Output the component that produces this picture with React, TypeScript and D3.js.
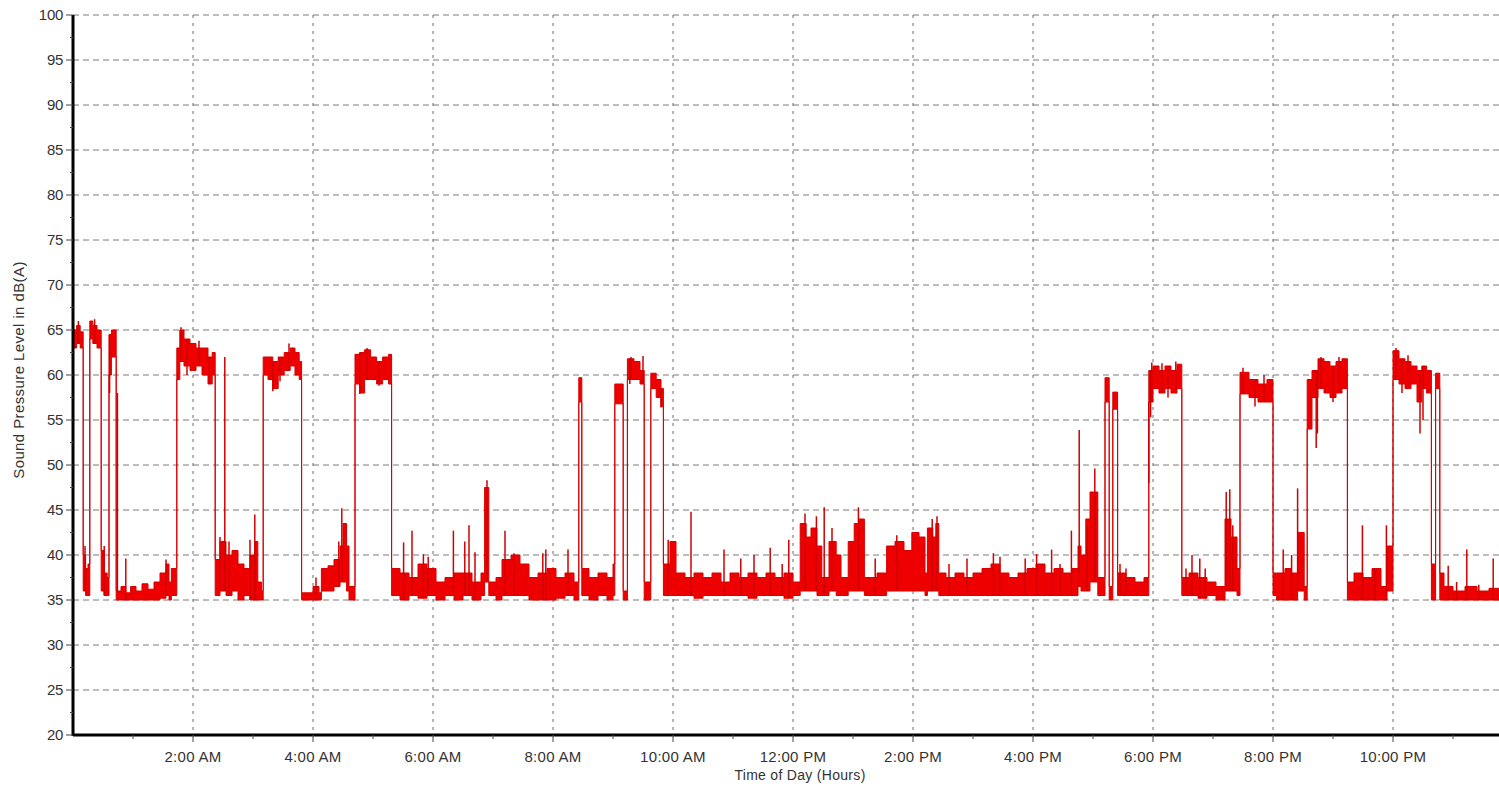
import React from 'react';
import * as d3 from 'd3';

// [hour, low dB(A), high dB(A)] — step envelope of the measured band
const bandSteps: [number, number, number][] = [
  [0.0, 63.0, 65.0], [0.06, 63.5, 65.5], [0.12, 63.0, 64.8],
  [0.17, 36.0, 40.0], [0.21, 35.5, 38.5], [0.25, 35.5, 39.0],
  [0.28, 64.0, 66.0], [0.33, 63.5, 65.5], [0.4, 63.0, 65.0],
  [0.47, 36.0, 40.5], [0.52, 35.5, 38.0], [0.57, 35.5, 37.5],
  [0.6, 60.0, 64.5], [0.64, 62.0, 65.0],
  [0.72, 35.0, 36.0], [0.8, 35.0, 36.5], [0.88, 35.0, 35.8], [0.96, 35.0, 36.5],
  [1.05, 35.0, 36.0], [1.15, 35.0, 36.8], [1.25, 35.0, 36.2], [1.35, 35.0, 37.0],
  [1.45, 35.2, 38.0], [1.55, 35.5, 39.0], [1.6, 35.0, 37.0], [1.64, 35.5, 38.5],
  [1.73, 59.5, 63.0], [1.78, 61.5, 65.0], [1.85, 61.0, 64.0], [1.95, 60.5, 63.5],
  [2.05, 61.0, 63.0], [2.15, 60.0, 63.0], [2.25, 59.0, 62.0], [2.32, 60.0, 62.5],
  [2.37, 35.5, 39.5], [2.45, 36.0, 41.5], [2.55, 35.5, 40.0], [2.65, 36.0, 40.5],
  [2.75, 35.0, 39.0], [2.85, 35.5, 38.5], [2.95, 35.0, 40.0], [3.03, 35.0, 41.5],
  [3.08, 35.0, 37.0], [3.14, 35.0, 36.0],
  [3.17, 60.0, 62.0], [3.25, 59.5, 62.0], [3.33, 58.5, 61.5], [3.42, 60.0, 62.0],
  [3.52, 60.5, 62.5], [3.62, 61.0, 63.0], [3.7, 60.0, 62.5], [3.77, 59.5, 61.5],
  [3.81, 35.0, 35.8], [4.0, 35.0, 36.5], [4.1, 35.0, 35.8],
  [4.14, 36.0, 38.5], [4.25, 36.0, 38.8], [4.35, 36.5, 39.5], [4.45, 37.0, 41.0],
  [4.5, 37.0, 43.5], [4.56, 36.0, 41.0], [4.6, 35.0, 36.5],
  [4.7, 59.0, 62.3], [4.78, 58.0, 62.5], [4.86, 59.5, 62.8], [4.96, 59.5, 62.0],
  [5.06, 59.0, 61.5], [5.16, 59.5, 62.0], [5.26, 59.0, 62.3],
  [5.31, 35.5, 38.5], [5.45, 35.0, 38.0], [5.6, 35.5, 37.5], [5.75, 35.2, 39.0],
  [5.9, 35.5, 38.5], [6.05, 35.0, 37.0], [6.2, 35.5, 37.5], [6.35, 35.0, 38.0],
  [6.5, 35.5, 38.0], [6.65, 35.0, 37.0], [6.8, 35.5, 38.0], [6.86, 37.0, 47.5],
  [6.93, 35.5, 37.0], [7.05, 35.0, 37.5], [7.15, 35.5, 39.5], [7.3, 35.5, 40.0],
  [7.45, 35.5, 39.0], [7.6, 35.0, 37.5], [7.75, 35.0, 38.0], [7.9, 35.0, 38.5],
  [8.05, 35.2, 37.5], [8.2, 35.5, 38.0], [8.35, 35.0, 37.0],
  [8.43, 57.0, 59.7], [8.48, 35.5, 38.5], [8.6, 35.0, 37.5], [8.75, 35.5, 38.0],
  [8.9, 35.0, 37.5], [9.0, 35.5, 39.0],
  [9.03, 56.8, 59.0], [9.17, 35.0, 36.0],
  [9.24, 59.5, 61.8], [9.35, 59.5, 61.5], [9.45, 59.0, 60.5],
  [9.52, 35.0, 37.0], [9.63, 58.5, 60.2], [9.72, 57.5, 59.5], [9.8, 56.5, 58.5],
  [9.84, 35.5, 39.0], [9.95, 35.5, 41.5], [10.05, 35.5, 38.0], [10.2, 35.5, 37.5],
  [10.35, 35.2, 38.0], [10.5, 35.5, 37.5], [10.65, 35.5, 38.0], [10.8, 35.5, 37.0],
  [10.95, 35.5, 38.0], [11.1, 35.5, 37.5], [11.25, 35.2, 38.0], [11.4, 35.5, 37.5],
  [11.55, 35.5, 38.0], [11.7, 35.5, 37.5], [11.85, 35.2, 38.0], [12.0, 35.5, 37.0],
  [12.12, 36.0, 43.5], [12.22, 36.0, 42.0], [12.3, 36.0, 43.0], [12.4, 35.5, 41.0],
  [12.48, 35.5, 37.5], [12.6, 36.0, 41.5], [12.72, 35.5, 40.0], [12.8, 35.5, 37.5],
  [12.92, 36.0, 41.5], [13.02, 36.0, 43.5], [13.1, 36.0, 44.0], [13.19, 35.5, 37.5],
  [13.4, 35.5, 38.0], [13.56, 36.0, 41.0], [13.7, 36.0, 41.5], [13.85, 36.0, 40.5],
  [13.98, 36.0, 42.5], [14.1, 36.0, 42.0], [14.2, 35.5, 38.0], [14.24, 36.0, 43.0],
  [14.33, 36.0, 42.0], [14.38, 36.0, 43.5], [14.43, 35.5, 38.0], [14.55, 35.5, 37.5],
  [14.7, 35.5, 38.0], [14.85, 35.5, 37.5], [15.0, 35.5, 38.0], [15.15, 35.5, 38.5],
  [15.3, 35.5, 39.0], [15.45, 35.5, 38.0], [15.6, 35.5, 37.5], [15.75, 35.5, 38.0],
  [15.9, 35.5, 38.5], [16.05, 35.5, 39.0], [16.2, 35.5, 38.0], [16.35, 35.5, 38.5],
  [16.5, 35.5, 38.0], [16.65, 35.5, 38.5], [16.75, 36.5, 41.0], [16.8, 36.0, 40.0],
  [16.88, 36.0, 44.0], [16.95, 37.0, 47.0], [17.08, 35.5, 37.5],
  [17.2, 57.0, 59.7], [17.27, 35.0, 36.5], [17.33, 56.2, 58.1],
  [17.41, 35.5, 38.0], [17.55, 35.5, 37.5], [17.7, 35.5, 37.0], [17.85, 35.5, 37.5],
  [17.93, 57.0, 60.5], [18.0, 58.5, 61.0], [18.1, 58.0, 60.5], [18.2, 58.5, 61.0],
  [18.3, 58.0, 60.5], [18.4, 58.5, 61.2],
  [18.48, 35.5, 37.5], [18.6, 35.5, 38.0], [18.75, 35.2, 37.5], [18.9, 35.5, 37.0],
  [19.05, 35.0, 36.5], [19.2, 36.0, 44.0], [19.3, 36.0, 42.0], [19.4, 35.5, 38.5],
  [19.45, 57.9, 60.3], [19.6, 57.5, 59.5], [19.75, 57.0, 59.0], [19.9, 57.0, 59.5],
  [20.0, 35.5, 38.0], [20.06, 35.0, 38.0], [20.2, 35.0, 38.5], [20.3, 35.0, 38.0],
  [20.41, 36.0, 42.5], [20.52, 35.0, 36.5],
  [20.57, 54.0, 59.5], [20.65, 57.5, 60.5], [20.75, 58.5, 61.8], [20.85, 58.0, 61.5],
  [20.95, 57.5, 61.0], [21.05, 58.0, 61.5], [21.15, 58.5, 61.8],
  [21.24, 35.0, 37.0], [21.35, 35.0, 38.0], [21.5, 35.0, 37.5], [21.65, 35.0, 38.5],
  [21.8, 35.0, 36.5], [21.9, 36.0, 41.0],
  [22.0, 59.5, 62.7], [22.1, 59.0, 61.8], [22.2, 58.5, 61.5], [22.3, 59.0, 61.0],
  [22.4, 57.0, 60.5], [22.48, 58.5, 61.0], [22.56, 58.0, 60.5],
  [22.64, 35.0, 39.0], [22.71, 58.5, 60.2], [22.78, 35.0, 38.0], [22.85, 35.0, 36.5],
  [23.0, 35.0, 36.0], [23.2, 35.0, 36.5], [23.4, 35.0, 36.0], [23.6, 35.0, 36.3],
  [24.0, 35.0, 36.3],
];

// [hour, peak dB(A)] — short upward spikes
const spikesUp: [number, number][] = [
  [0.2, 41], [0.52, 41], [0.88, 39.6], [1.55, 39.5], [2.45, 42], [2.53, 62],
  [2.6, 41.5], [2.95, 41.7], [3.03, 44.5], [4.05, 37.5], [4.43, 41.5], [4.48, 45.2],
  [5.51, 41.4], [5.65, 42.7], [5.84, 40.1], [5.92, 39.8], [6.34, 42.7], [6.53, 41.5],
  [6.6, 43.3], [6.7, 40.3], [6.9, 48.3], [7.2, 42.7], [7.35, 40.2], [7.83, 40.2],
  [7.88, 40.6], [8.25, 40.6], [9.5, 62.1], [9.92, 41.7], [10.3, 44.8], [10.85, 40.6],
  [11.13, 39.6], [11.35, 40.0], [11.62, 40.8], [11.82, 39.0], [11.93, 41.7],
  [12.2, 44.6], [12.39, 44.3], [12.52, 45.3], [12.65, 43.0], [13.09, 45.3],
  [13.37, 39.6], [13.73, 42.2], [14.32, 44.0], [14.4, 44.3], [14.6, 39.0],
  [14.9, 39.6], [15.34, 40.2], [15.45, 39.8], [15.87, 39.6], [16.06, 40.1],
  [16.31, 40.6], [16.45, 39.0], [16.64, 42.7], [16.77, 53.9], [16.9, 43.3],
  [17.03, 49.6], [17.45, 39.0], [17.55, 38.5], [17.93, 48.0], [18.55, 38.5],
  [18.65, 40.0], [18.78, 39.6], [18.87, 38.5], [19.22, 47.0], [19.28, 47.3],
  [19.33, 43.3], [20.17, 40.6], [20.31, 40.0], [20.41, 47.4], [21.49, 43.3],
  [21.7, 38.5], [21.89, 43.3], [22.92, 38.8], [23.06, 37.0], [23.23, 40.6],
  [23.43, 36.7], [23.67, 39.6],
  // small jags on loud periods
  [0.09, 66.0], [0.36, 66.2], [1.8, 65.3], [2.1, 63.8], [3.6, 63.5], [4.9, 63.0],
  [9.3, 62.0], [17.98, 61.4], [18.15, 61.3], [18.38, 61.5], [19.5, 60.8],
  [19.85, 60.0], [20.8, 62.0], [21.1, 62.0], [22.05, 63.0], [22.25, 62.2],
];

// [hour, lowest dB(A)] — short downward dips inside loud periods
const dipsDown: [number, number][] = [
  [0.61, 58.0], [0.74, 58.0], [2.27, 59.0], [3.33, 58.2], [4.78, 57.9], [9.8, 56.4],
  [17.96, 55.3], [20.72, 51.9], [20.74, 53.5], [22.45, 53.5], [22.5, 55.0],
  [1.9, 60.0], [3.45, 59.3], [5.1, 58.8], [9.28, 59.0], [18.25, 57.5],
  [19.7, 56.5], [21.0, 57.0], [22.15, 58.0],
];

const yTicks = [20, 25, 30, 35, 40, 45, 50, 55, 60, 65, 70, 75, 80, 85, 90, 95, 100];
const yMinor = [22.5, 27.5, 32.5, 37.5, 42.5, 47.5, 52.5, 57.5, 62.5, 67.5, 72.5, 77.5, 82.5, 87.5, 92.5, 97.5];
const xTickHours = [2, 4, 6, 8, 10, 12, 14, 16, 18, 20, 22];
const xTickLabels = ['2:00 AM', '4:00 AM', '6:00 AM', '8:00 AM', '10:00 AM', '12:00 PM', '2:00 PM', '4:00 PM', '6:00 PM', '8:00 PM', '10:00 PM'];
const xMinorHours = [1, 3, 5, 7, 9, 11, 13, 15, 17, 19, 21, 23];

const W = 1499;
const H = 788;
const X0 = 73;
const Y_TOP = 15;
const Y_BOT = 735;

export default function App() {
  const x = d3.scaleLinear().domain([0, 24]).range([X0, X0 + 1440]);
  const y = d3.scaleLinear().domain([20, 100]).range([Y_BOT, Y_TOP]);

  const area = d3
    .area<[number, number, number]>()
    .x((d) => x(d[0]))
    .y0((d) => y(d[1]))
    .y1((d) => y(d[2]))
    .curve(d3.curveStepAfter);

  const bandAt = (h: number) => {
    let s = bandSteps[0];
    for (const b of bandSteps) if (b[0] <= h) s = b;
    return s;
  };

  const font = '"Liberation Sans", Arial, sans-serif';
  const red = '#ee0000';

  return (
    <svg width={W} height={H} style={{ position: 'absolute', left: 0, top: 0, background: '#fff' }}>
      <defs>
        <clipPath id="plot">
          <rect x={X0} y={Y_TOP} width={W - X0} height={Y_BOT - Y_TOP} />
        </clipPath>
      </defs>
      <rect x={0} y={0} width={W} height={H} fill="#fff" />
      {/* horizontal grid */}
      {yTicks.filter((t) => t > 20).map((t) => (
        <line key={'gy' + t} x1={X0} x2={W} y1={y(t)} y2={y(t)} stroke="#7a7a7a" strokeWidth={1} strokeDasharray="6,4" />
      ))}
      {/* vertical grid */}
      {xTickHours.map((h) => (
        <line key={'gx' + h} x1={x(h)} x2={x(h)} y1={Y_TOP} y2={Y_BOT} stroke="#6a6a6a" strokeWidth={1} strokeDasharray="3,5" />
      ))}
      {/* data */}
      <g clipPath="url(#plot)">
        <path d={area(bandSteps) || ''} fill={red} stroke="#d80000" strokeWidth={1} />
        {spikesUp.map(([h, v], i) => (
          <line key={'s' + i} x1={x(h)} x2={x(h)} y1={y(bandAt(h)[1])} y2={y(v)} stroke="#d00000" strokeWidth={1.5} />
        ))}
        {dipsDown.map(([h, v], i) => (
          <line key={'d' + i} x1={x(h)} x2={x(h)} y1={y(bandAt(h)[2])} y2={y(v)} stroke="#d00000" strokeWidth={1.5} />
        ))}
      </g>
      {/* axes */}
      <line x1={X0} x2={X0} y1={Y_TOP} y2={Y_BOT + 1} stroke="#000" strokeWidth={3} />
      <line x1={X0} x2={W} y1={Y_BOT} y2={Y_BOT} stroke="#000" strokeWidth={3} />
      {yTicks.map((t) => (
        <g key={'yt' + t}>
          <line x1={X0 - 7} x2={X0} y1={y(t)} y2={y(t)} stroke="#444" strokeWidth={1} />
          <text x={63} y={y(t)} dy="0.35em" textAnchor="end" fontFamily={font} fontSize={15} fill="#333" letterSpacing={-0.3}>
            {t}
          </text>
        </g>
      ))}
      {yMinor.map((t) => (
        <line key={'ym' + t} x1={X0 - 3} x2={X0} y1={y(t)} y2={y(t)} stroke="#444" strokeWidth={1} />
      ))}
      {xTickHours.map((h, i) => (
        <g key={'xt' + h}>
          <line x1={x(h)} x2={x(h)} y1={Y_BOT} y2={Y_BOT + 7} stroke="#444" strokeWidth={1} />
          <text x={x(h)} y={762} textAnchor="middle" fontFamily={font} fontSize={15} fill="#333" letterSpacing={0.3}>
            {xTickLabels[i]}
          </text>
        </g>
      ))}
      {xMinorHours.map((h) => (
        <line key={'xm' + h} x1={x(h)} x2={x(h)} y1={Y_BOT} y2={Y_BOT + 4} stroke="#444" strokeWidth={1} />
      ))}
      <text x={800} y={780} textAnchor="middle" fontFamily={font} fontSize={14} fill="#333" letterSpacing={0.3}>
        Time of Day (Hours)
      </text>
      <text
        transform={`translate(24,${370}) rotate(-90)`}
        textAnchor="middle"
        fontFamily={font}
        fontSize={15}
        fill="#333"
        letterSpacing={0.4}
      >
        Sound Pressure Level in dB(A)
      </text>
    </svg>
  );
}
